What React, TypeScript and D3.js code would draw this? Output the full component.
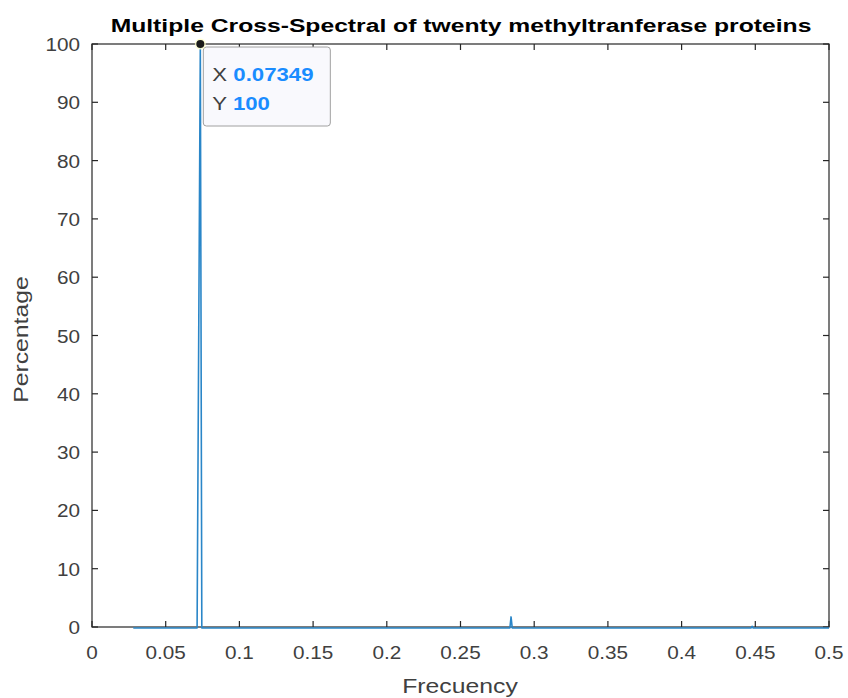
import React from "react";
import * as d3 from "d3";

const freq = [0.028, 0.0713, 0.07349, 0.0745, 0.2835, 0.2843, 0.2851, 0.4472, 0.4478, 0.4484, 0.5];
const percentage = [0, 0, 100, 0, 0, 1.9, 0, 0, 0.3, 0, 0];
const xTicks = [0, 0.05, 0.1, 0.15, 0.2, 0.25, 0.3, 0.35, 0.4, 0.45, 0.5];
const xTickLabels = ["0", "0.05", "0.1", "0.15", "0.2", "0.25", "0.3", "0.35", "0.4", "0.45", "0.5"];
const yTicks = [0, 10, 20, 30, 40, 50, 60, 70, 80, 90, 100];
const tipX = "0.07349";
const tipY = "100";
const title = "Multiple Cross-Spectral of twenty methyltranferase proteins";

const W = 848, H = 698;
const L = 92, R = 829, T = 44, B = 627;
const FONT = "'Liberation Sans', Arial, Helvetica, sans-serif";

function SText(props: { x: number; y: number; sx: number; rotate?: number; anchor?: string; size: number; weight?: string; fill: string; children: React.ReactNode }) {
  const { x, y, sx, rotate = 0, anchor = "start", size, weight = "normal", fill, children } = props;
  return (
    <text transform={`translate(${x},${y}) rotate(${rotate}) scale(${sx},1)`} textAnchor={anchor} fontSize={size} fontWeight={weight} fill={fill}>
      {children}
    </text>
  );
}

export default function App() {
  const x = d3.scaleLinear().domain([0, 0.5]).range([L, R]);
  const y = d3.scaleLinear().domain([0, 100]).range([B, T]);
  const line = d3.line<number>().x((_, i) => x(freq[i])).y((d) => y(d));
  const path = line(percentage) || "";
  const peakI = percentage.indexOf(d3.max(percentage) as number);
  const px = x(freq[peakI]), py = y(percentage[peakI]);
  const tick = 6;
  const axisColor = "#262626";
  const labelColor = "#404040";
  return (
    <svg width={W} height={H} style={{ position: "absolute", left: 0, top: 0, background: "#fff" }} fontFamily={FONT}>
      <rect x={0} y={0} width={W} height={H} fill="#fff" />
      <SText x={461} y={32} sx={1.3} anchor="middle" size={19} weight="bold" fill="#000">{title}</SText>
      <g stroke={axisColor} strokeWidth={1.2} fill="none">
        <rect x={L} y={T} width={R - L} height={B - T} />
        {xTicks.map((t) => (
          <g key={"xt" + t}>
            <line x1={x(t)} x2={x(t)} y1={B} y2={B - tick} />
            <line x1={x(t)} x2={x(t)} y1={T} y2={T + tick} />
          </g>
        ))}
        {yTicks.map((t) => (
          <g key={"yt" + t}>
            <line x1={L} x2={L + tick} y1={y(t)} y2={y(t)} />
            <line x1={R} x2={R - tick} y1={y(t)} y2={y(t)} />
          </g>
        ))}
      </g>
      <path d={path} transform="translate(0,1)" fill="none" stroke="#2a86c8" strokeWidth={1.6} strokeLinejoin="round" />
      {xTicks.map((t, i) => (
        <SText key={"xl" + t} x={x(t)} y={B + 32} sx={1.12} anchor="middle" size={18.5} fill={labelColor}>{xTickLabels[i]}</SText>
      ))}
      {yTicks.map((t) => (
        <SText key={"yl" + t} x={L - 12} y={y(t) + 7} sx={1.12} anchor="end" size={18.5} fill={labelColor}>{t}</SText>
      ))}
      <SText x={460} y={693} sx={1.27} anchor="middle" size={19.5} fill={labelColor}>Frecuency</SText>
      <SText x={28} y={(T + B) / 2 + 4} sx={1.27} rotate={-90} anchor="middle" size={19.5} fill={labelColor}>Percentage</SText>
      <g>
        <rect x={px + 3} y={py + 3} width={127} height={79} rx={3} fill="#f9f9fd" stroke="#a0a0a0" strokeWidth={1} />
        <SText x={px + 12} y={py + 37} sx={1.2} size={18.5} fill="#404040">X <tspan fontWeight="bold" fill="#1a8cff">{tipX}</tspan></SText>
        <SText x={px + 12} y={py + 66} sx={1.2} size={18.5} fill="#404040">Y <tspan fontWeight="bold" fill="#1a8cff">{tipY}</tspan></SText>
        <circle cx={px} cy={py} r={5.5} fill="#ffffcc" opacity={0.8} />
        <circle cx={px} cy={py} r={4} fill="#1a1a1a" />
      </g>
    </svg>
  );
}
